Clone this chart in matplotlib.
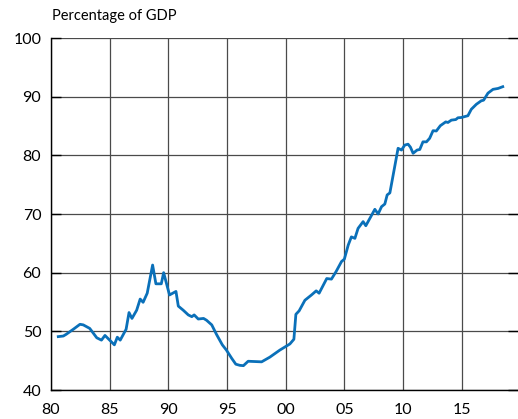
import matplotlib.pyplot as plt
import numpy as np

plt.rcParams['font.family'] = ['Lato', 'DejaVu Sans']

years = [1980.62, 1981.05, 1981.3, 1981.9, 1982.47, 1982.75, 1983.3, 1983.9, 1984.3, 1984.6,
         1985.0, 1985.4, 1985.65, 1985.9, 1986.4, 1986.65, 1986.9, 1987.3, 1987.6, 1987.85,
         1988.2, 1988.66, 1988.94, 1989.4, 1989.6, 1990.1, 1990.65, 1990.85, 1991.27, 1991.7,
         1992.0, 1992.2, 1992.55, 1993.0, 1993.25, 1993.7, 1994.1, 1994.6, 1994.95, 1995.4,
         1995.75, 1996.1, 1996.4, 1996.8, 1997.95, 1998.65, 1999.5, 2000.36, 2000.7, 2000.87,
         2001.15, 2001.64, 2002.2, 2002.6, 2002.85, 2003.5, 2003.9, 2004.3, 2004.76, 2005.0,
         2005.33, 2005.6, 2005.9, 2006.17, 2006.6, 2006.83, 2007.6, 2007.88, 2008.17, 2008.45,
         2008.65, 2008.88, 2009.24, 2009.58, 2009.87, 2010.15, 2010.43, 2010.63, 2010.86, 2011.2,
         2011.43, 2011.7, 2012.0, 2012.27, 2012.56, 2012.84, 2013.18, 2013.64, 2013.83, 2014.12,
         2014.5, 2014.68, 2014.97, 2015.53, 2015.82, 2016.25, 2016.67, 2016.87, 2017.24, 2017.67,
         2018.1, 2018.5]
debt = [49.1, 49.2, 49.5, 50.35, 51.2, 51.1, 50.5, 48.9, 48.5, 49.3,
        48.5, 47.7, 49.0, 48.5, 50.35, 53.2, 52.2, 53.6, 55.5, 54.95,
        56.5, 61.3, 58.1, 58.1, 60.0, 56.2, 56.8, 54.3, 53.6, 52.8,
        52.5, 52.8, 52.1, 52.2, 51.9, 51.1, 49.5, 47.7, 46.8, 45.4,
        44.4, 44.2, 44.15, 44.9, 44.8, 45.6, 46.8, 47.85, 48.65, 52.9,
        53.5, 55.3, 56.2, 56.9, 56.5, 59.0, 58.9, 60.2, 61.9, 62.3,
        64.7, 66.1, 65.85, 67.55, 68.7, 68.0, 70.8, 70.0, 71.25, 71.7,
        73.25, 73.6, 77.5, 81.2, 80.9, 81.75, 81.9, 81.4, 80.35, 80.9,
        81.0, 82.3, 82.3, 82.9, 84.2, 84.15, 85.05, 85.7, 85.6, 86.0,
        86.1, 86.4, 86.45, 86.75, 87.85, 88.7, 89.3, 89.4, 90.6, 91.25,
        91.4, 91.7]

xticks = [1980, 1985, 1990, 1995, 2000, 2005, 2010, 2015]
xlabels = ['80', '85', '90', '95', '00', '05', '10', '15']
yticks = [40, 50, 60, 70, 80, 90, 100]

fig = plt.figure(figsize=(5.18, 4.19), dpi=100)
ax = fig.add_axes([51/518, 1-390/419, 467/518, 352/419])

ax.plot(years, debt, color='#0a70b9', lw=2.0, zorder=3)

ax.set_xlim(1980, 2019.8)
ax.set_ylim(40, 100)
ax.set_xticks(xticks)
ax.set_xticklabels(xlabels)
ax.set_yticks(yticks)

ax.grid(True, color='#4a4a4a', lw=0.9)
for s in ['top', 'right']:
    ax.spines[s].set_visible(False)
ax.spines['left'].set_color('black')
ax.spines['bottom'].set_color('black')
ax.spines['left'].set_linewidth(1.0)
ax.spines['bottom'].set_linewidth(1.0)

ax.tick_params(axis='y', direction='in', length=7, width=1.0, right=True,
               labelsize=11.5, pad=7)
ax.tick_params(axis='x', length=0, labelsize=11.5, pad=9)

fig.text(52/518, 1-16/419, 'Percentage of GDP', fontsize=10.5, va='center', ha='left')

fig.savefig('out.png', dpi=100)
